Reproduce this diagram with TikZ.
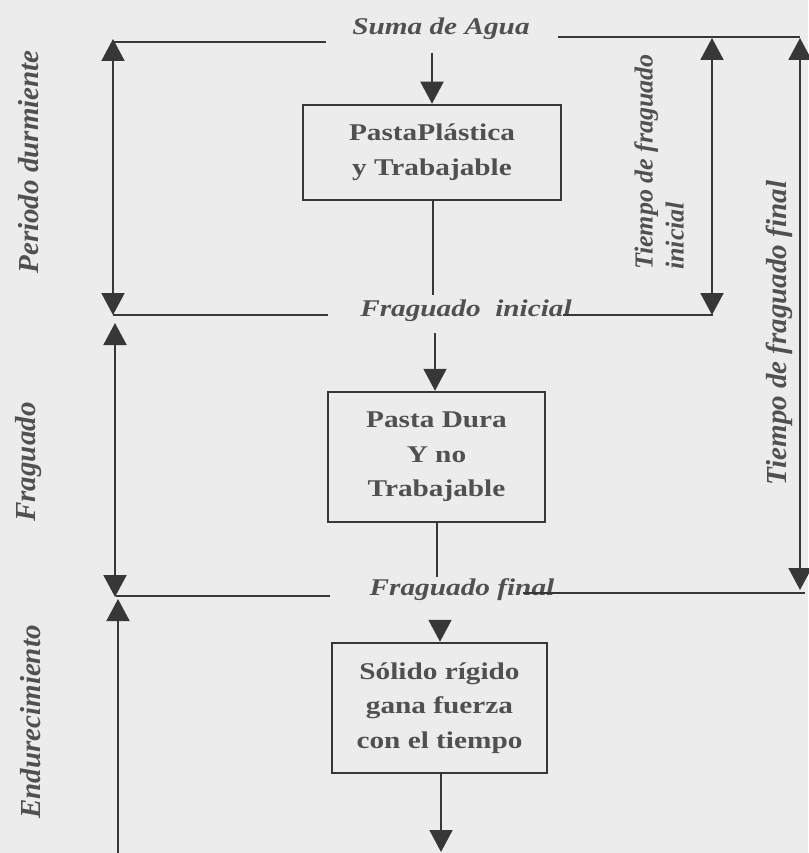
\documentclass[tikz,border=0pt]{standalone}
\usepackage{fontspec}
\setmainfont{Liberation Serif}
\newfontfamily\boxfont[FakeStretch=1.22]{Liberation Serif}
\usetikzlibrary{arrows.meta}
\definecolor{bgc}{RGB}{236,236,236}
\definecolor{linec}{RGB}{55,55,55}
\definecolor{textc}{RGB}{80,80,80}
\begin{document}
\begin{tikzpicture}[x=1pt,y=-1pt,
  ln/.style={draw=linec, line width=2pt},
  arr/.style={ln, -{Triangle[width=23pt,length=22pt]}},
  darr/.style={ln, {Triangle[width=23pt,length=22pt]}-{Triangle[width=23pt,length=22pt]}},
  boxnode/.style={draw=linec, line width=2.5pt, text=textc, align=center, inner sep=0pt,
    font=\boxfont\bfseries\fontsize{24}{34.5}\selectfont},
  lab/.style={text=textc, inner sep=0pt, anchor=base,
    font=\boxfont\bfseries\itshape\fontsize{24}{28}\selectfont},
  vlab/.style={text=textc, rotate=90, inner sep=0pt,
    font=\bfseries\itshape\fontsize{29}{32}\selectfont}]
\fill[bgc] (0,0) rectangle (808,853);
\useasboundingbox (0,0) rectangle (808,853);

% labels on the flow
\node[lab] (suma) at (441,35) {Suma de Agua};
\node[lab] (fini) at (466,316) {Fraguado\ \ inicial};
\node[lab] (ffin) at (462,595) {Fraguado final};

% boxes
\node[boxnode, minimum width=258pt, minimum height=95pt] (b1) at (432,152.5) {PastaPlástica\\y Trabajable};
\node[boxnode, minimum width=217pt, minimum height=130pt] (b2) at (436.5,457) {Pasta Dura\\Y no\\Trabajable};
\node[boxnode, minimum width=215pt, minimum height=130pt] (b3) at (439.5,708) {Sólido rígido\\gana fuerza\\con el tiempo};

% side labels
\node[vlab] (pd) at (29,162) {Periodo durmiente};
\node[vlab] (fr) at (29,462) {Fraguado};
\node[vlab] (en) at (31,722) {Endurecimiento};
\node[vlab, anchor=west, align=left, font=\bfseries\itshape\fontsize{26}{31}\selectfont] (tfi) at (659,270) {Tiempo de fraguado\\inicial};
\node[vlab] (tff) at (779,333) {Tiempo de fraguado final};

% coordinates of the time lines
\coordinate (tl1) at (113,42);  \coordinate (tl2) at (326,42);
\coordinate (tr1) at (558,37);  \coordinate (tr2) at (800,37);
\coordinate (il1) at (113,315); \coordinate (il2) at (328,315);
\coordinate (ir1) at (563,315); \coordinate (ir2) at (713,315);
\coordinate (fl1) at (116,596); \coordinate (fl2) at (330,596);
\coordinate (fr1) at (523,593); \coordinate (fr2) at (805,593);

\draw[ln] (tl1) -- (tl2);
\draw[ln] (tr1) -- (tr2);
\draw[ln] (il1) -- (il2);
\draw[ln] (ir1) -- (ir2);
\draw[ln] (fl1) -- (fl2);
\draw[ln] (fr1) -- (fr2);

% left span arrows
\coordinate (a1t) at (113,39);  \coordinate (a1b) at (113,315);
\coordinate (a2t) at (115,323); \coordinate (a2b) at (115,597);
\coordinate (a3t) at (118,599); \coordinate (a3b) at (118,853);
\draw[darr] (a1t) -- (a1b);
\draw[darr] (a2t) -- (a2b);
\draw[arr] (a3b) -- (a3t);

% right span arrows
\coordinate (r1t) at (712,38);  \coordinate (r1b) at (712,315);
\coordinate (r2t) at (800,38);  \coordinate (r2b) at (800,590);
\draw[darr] (r1t) -- (r1b);
\draw[darr] (r2t) -- (r2b);

% flow connectors
\coordinate (s1) at (432,53);
\coordinate (e1) at (433,295);
\coordinate (s2) at (435,333);
\coordinate (e2) at (437,577);
\coordinate (s3) at (440,620);
\coordinate (e3) at (441,852);
\draw[arr] (s1) -- (s1 |- b1.north);
\draw[ln] (b1.south -| e1) -- (e1);
\draw[arr] (s2) -- (s2 |- b2.north);
\draw[ln] (b2.south -| e2) -- (e2);
\draw[arr] (s3) -- (s3 |- b3.north);
\draw[arr] (b3.south -| e3) -- (e3);
\end{tikzpicture}
\end{document}
